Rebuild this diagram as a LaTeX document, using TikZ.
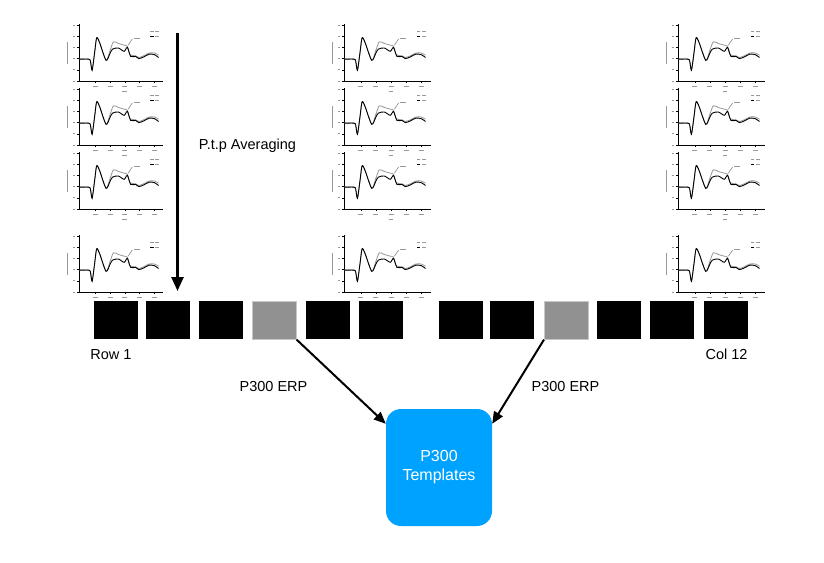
\documentclass[tikz,border=0pt]{standalone}
\usepackage{fontspec}
\setmainfont{Liberation Sans}
\usetikzlibrary{arrows.meta}
\definecolor{tblue}{RGB}{0,162,255}
\definecolor{sqgray}{RGB}{145,145,145}
\definecolor{curvegray}{RGB}{150,150,150}
\tikzset{
  sqbox/.style={fill=black, minimum width=44pt, minimum height=38pt, inner sep=0pt, anchor=north west},
  sqsel/.style={sqbox, fill=sqgray, draw=black!22, line width=0.6pt},
  lbl/.style={font=\fontsize{14.5}{17}\selectfont, inner sep=0pt},
  tmplbox/.style={fill=tblue, rounded corners=15pt, minimum width=106pt, minimum height=117pt, inner sep=0pt, text=white, align=center, font=\fontsize{16}{19}\selectfont},
  bigarrow/.style={line width=2.5pt, -{Triangle[length=14pt,width=12pt]}},
  erparrow/.style={line width=2pt, -{Triangle[length=12pt,width=10pt]}},
  faint/.style={black!40, line width=0.7pt},
  erp/.pic={
    \begin{scope}[x=#1pt, y=56pt]
      \draw[line width=0.6pt] (0,1.02) -- (0,0) -- (1.03,0);
      \foreach \v in {0,0.2,0.4,0.6,0.8,1} {
        \draw[line width=0.4pt] (0,\v) -- (-0.025,\v);
        \draw[faint] (-0.075,\v) -- (-0.045,\v);
      }
      \foreach \u in {0.2,0.38,0.56,0.74,0.92} {
        \draw[line width=0.4pt] (\u,0) -- (\u,-0.03);
        \draw[faint] (\u-0.03,-0.1) -- (\u+0.03,-0.1);
      }
      \draw[faint] (0.53,-0.19) -- (0.58,-0.19);
      \draw[faint] (-0.14,0.3) -- (-0.14,0.7);
      % gray curve
      \draw[curvegray, line width=0.8pt] plot[smooth, tension=0.45] coordinates {
        (0.0,0.39) (0.12,0.39) (0.14,0.35) (0.16,0.2) (0.19,0.5) (0.215,0.77)
        (0.25,0.69) (0.33,0.37) (0.38,0.55) (0.42,0.70) (0.48,0.67) (0.55,0.64)
        (0.59,0.62) (0.62,0.47) (0.69,0.45) (0.73,0.42) (0.79,0.45) (0.855,0.5)
        (0.92,0.5) (0.97,0.46)};
      \draw[curvegray, line width=0.7pt] (0.6,0.64) -- (0.65,0.75);
      \draw[faint] (0.67,0.76) -- (0.74,0.76);
      % black curve
      \draw[black, line width=0.9pt] plot[smooth, tension=0.45] coordinates {
        (0.0,0.39) (0.12,0.39) (0.14,0.35) (0.16,0.19) (0.19,0.5) (0.215,0.77)
        (0.25,0.69) (0.33,0.37) (0.38,0.5) (0.41,0.57) (0.48,0.59) (0.55,0.53)
        (0.59,0.6) (0.63,0.44) (0.69,0.44) (0.73,0.40) (0.79,0.43) (0.855,0.48)
        (0.92,0.47) (0.97,0.42)};
      % legend
      \draw[curvegray, line width=0.7pt] (0.87,0.89) -- (0.91,0.89);
      \draw[faint] (0.93,0.89) -- (0.98,0.89);
      \draw[black, line width=0.7pt] (0.87,0.8) -- (0.91,0.8);
      \draw[faint] (0.93,0.8) -- (0.98,0.8);
    \end{scope}
  }
}
\begin{document}
\begin{tikzpicture}[x=1pt, y=-1pt]
  \fill[white] (0,0) rectangle (824,562);
  \useasboundingbox (0,0) rectangle (824,562);

  % plots
  \foreach \yb in {81,145,209,292} {
    \pic at (79,\yb) {erp=82};
    \pic at (344,\yb) {erp=84};
    \pic at (678,\yb) {erp=84};
  }

  % averaging arrow
  \coordinate (avgtop) at (177.5,33);
  \coordinate (avgbot) at (177.5,291);
  \draw[bigarrow] (avgtop) -- (avgbot);
  \node[lbl] (avg) at (247.5,146) {P.t.p Averaging};

  % squares left
  \node[sqbox] (l1) at (93.5,301) {};
  \node[sqbox] (l2) at (146,301) {};
  \node[sqbox] (l3) at (199,301) {};
  \node[sqsel] (l4) at (252,301) {};
  \node[sqbox] (l5) at (305.5,301) {};
  \node[sqbox] (l6) at (359,301) {};
  % squares right
  \node[sqbox] (r1) at (439,301) {};
  \node[sqbox] (r2) at (490,301) {};
  \node[sqsel] (r3) at (544,301) {};
  \node[sqbox] (r4) at (597,301) {};
  \node[sqbox] (r5) at (650,301) {};
  \node[sqbox] (r6) at (704,301) {};

  \node[lbl] (row1) at (111,355) {Row 1};
  \node[lbl] (col12) at (726.5,354) {Col 12};

  % templates
  \node[tmplbox] (tmpl) at (439,467.5) {P300\\Templates};

  \node[lbl] (erpL) at (273.5,387) {P300 ERP};
  \node[lbl] (erpR) at (565.5,387) {P300 ERP};

  \draw[erparrow] (l4.south east) -- ([yshift=-15pt]tmpl.north west);
  \draw[erparrow] (r3.south west) -- ([yshift=-15pt]tmpl.north east);
\end{tikzpicture}
\end{document}
